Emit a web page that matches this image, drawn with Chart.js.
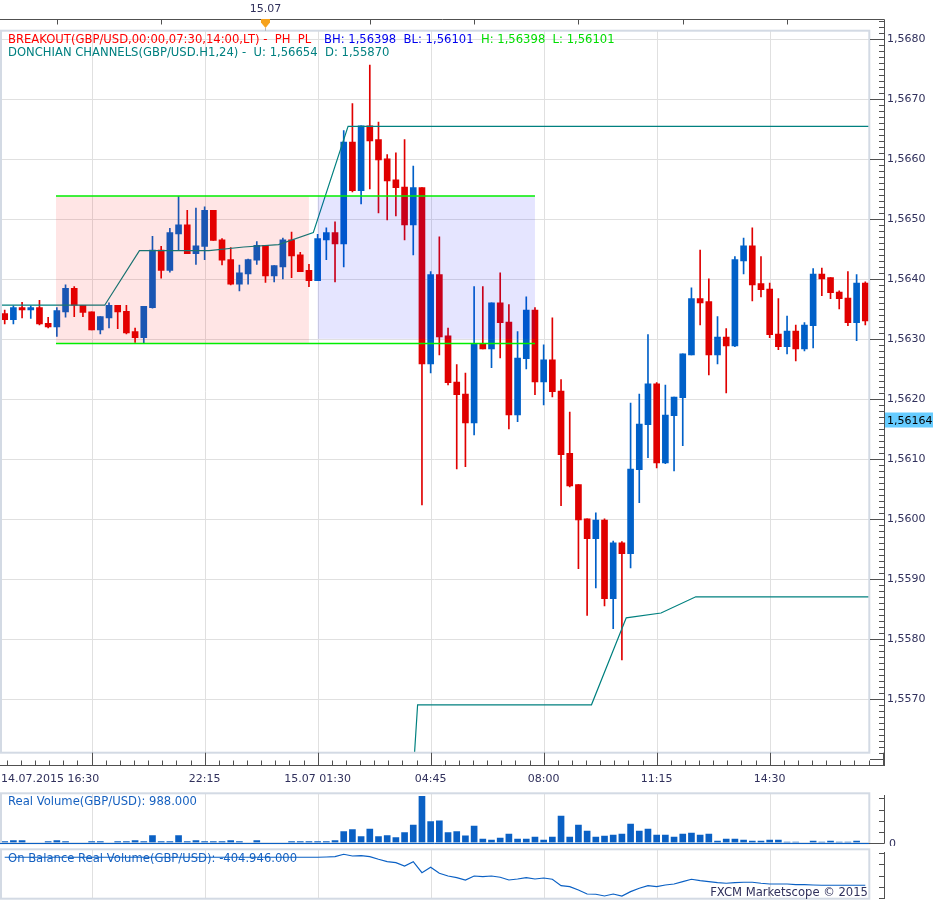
<!DOCTYPE html>
<html><head><meta charset="utf-8">
<script src="https://cdn.jsdelivr.net/npm/chart.js@4.4.1/dist/chart.umd.min.js"></script>
<style>
html,body{margin:0;padding:0;background:#fff;overflow:hidden}
#wrap{position:relative;width:942px;height:900px;background:#fff}
#wrap canvas{position:absolute;left:0}
</style></head><body>
<div id="wrap">
<canvas id="cMain" width="942" height="790" style="top:0px"></canvas>
<canvas id="cVol" width="942" height="56" style="top:790px"></canvas>
<canvas id="cObv" width="942" height="54" style="top:846px"></canvas>
</div>
<script>
// ---- 15-minute candles, GBP/USD, 14.07.2015 16:30 -> 15.07.2015 17:15 ----
const open = [
1.56342,1.56332,1.56352,1.56348,1.56352,1.56326,1.56320,1.56345,1.56384,1.56356,
1.56345,1.56315,1.56335,1.56356,1.56346,1.56312,1.56302,1.56352,1.56448,1.56414,
1.56475,1.56490,1.56442,1.56454,1.56514,1.56465,1.56432,1.56391,1.56408,1.56431,
1.56456,1.56405,1.56420,1.56465,1.56440,1.56414,1.56397,1.56465,1.56477,1.56458,
1.56628,1.56547,1.56655,1.56632,1.56600,1.56565,1.56553,1.56490,1.56552,1.56258,
1.56407,1.56305,1.56228,1.56208,1.56160,1.56292,1.56283,1.56360,1.56328,1.56173,
1.56267,1.56348,1.56228,1.56265,1.56213,1.56109,1.56057,1.56000,1.55967,1.55998,
1.55867,1.55960,1.55942,1.56082,1.56157,1.56225,1.56093,1.56172,1.56202,1.56273,
1.56367,1.56362,1.56273,1.56303,1.56288,1.56430,1.56455,1.56392,1.56383,1.56308,
1.56287,1.56313,1.56283,1.56322,1.56408,1.56402,1.56378,1.56368,1.56327,1.56393];
const high = [
1.56348,1.56355,1.56361,1.56355,1.56364,1.56336,1.56352,1.56390,1.56387,1.56356,
1.56345,1.56337,1.56360,1.56356,1.56356,1.56318,1.56354,1.56471,1.56454,1.56484,
1.56537,1.56514,1.56518,1.56520,1.56514,1.56467,1.56452,1.56423,1.56433,1.56462,
1.56456,1.56422,1.56468,1.56478,1.56444,1.56424,1.56474,1.56485,1.56495,1.56647,
1.56692,1.56655,1.56756,1.56661,1.56607,1.56610,1.56632,1.56588,1.56552,1.56412,
1.56470,1.56318,1.56257,1.56243,1.56387,1.56387,1.56360,1.56410,1.56357,1.56312,
1.56370,1.56352,1.56290,1.56335,1.56232,1.56178,1.56057,1.56000,1.56010,1.56000,
1.55963,1.55962,1.56193,1.56208,1.56307,1.56227,1.56223,1.56203,1.56275,1.56385,
1.56448,1.56400,1.56337,1.56317,1.56437,1.56468,1.56485,1.56437,1.56393,1.56367,
1.56338,1.56323,1.56327,1.56417,1.56418,1.56402,1.56380,1.56412,1.56407,1.56395];
const low = [
1.56325,1.56325,1.56335,1.56334,1.56323,1.56318,1.56304,1.56336,1.56337,1.56337,
1.56315,1.56308,1.56318,1.56317,1.56308,1.56294,1.56292,1.56351,1.56401,1.56411,
1.56448,1.56442,1.56424,1.56432,1.56464,1.56423,1.56390,1.56380,1.56391,1.56424,
1.56394,1.56395,1.56400,1.56402,1.56412,1.56387,1.56397,1.56432,1.56395,1.56420,
1.56545,1.56525,1.56550,1.56510,1.56498,1.56505,1.56465,1.56440,1.56023,1.56243,
1.56273,1.56223,1.56083,1.56087,1.56140,1.56283,1.56252,1.56268,1.56150,1.56162,
1.56250,1.56207,1.56190,1.56203,1.56022,1.56053,1.55917,1.55839,1.55885,1.55855,
1.55817,1.55765,1.55918,1.56027,1.56102,1.56085,1.56092,1.56080,1.56122,1.56273,
1.56323,1.56240,1.56258,1.56210,1.56287,1.56408,1.56363,1.56370,1.56302,1.56282,
1.56275,1.56263,1.56280,1.56285,1.56372,1.56367,1.56350,1.56322,1.56297,1.56323];
const close = [
1.56332,1.56352,1.56348,1.56352,1.56325,1.56320,1.56347,1.56384,1.56356,1.56344,
1.56315,1.56337,1.56356,1.56345,1.56310,1.56302,1.56354,1.56448,1.56414,1.56477,
1.56490,1.56442,1.56455,1.56514,1.56464,1.56431,1.56391,1.56410,1.56432,1.56456,
1.56405,1.56422,1.56465,1.56438,1.56412,1.56397,1.56467,1.56477,1.56458,1.56628,
1.56547,1.56655,1.56630,1.56598,1.56563,1.56552,1.56490,1.56552,1.56258,1.56407,
1.56303,1.56227,1.56207,1.56160,1.56292,1.56283,1.56360,1.56327,1.56173,1.56268,
1.56348,1.56228,1.56265,1.56212,1.56107,1.56055,1.55998,1.55967,1.55998,1.55867,
1.55960,1.55942,1.56083,1.56158,1.56225,1.56093,1.56173,1.56203,1.56275,1.56367,
1.56360,1.56273,1.56303,1.56288,1.56432,1.56455,1.56390,1.56382,1.56307,1.56287,
1.56313,1.56283,1.56323,1.56408,1.56400,1.56377,1.56367,1.56327,1.56393,1.56330];

// Real volume (thousands)
const volume = [
750,1200,1200,0,0,750,1200,750,0,0,
750,750,0,750,750,1200,750,3400,750,750,
3400,750,1200,750,750,750,1200,750,0,1200,
0,0,0,750,750,750,750,750,1200,5170,
6060,2960,6320,2960,3400,2520,4730,8090,20900,9590,
10030,4730,5170,3310,7650,1900,1460,2340,4110,1900,
1900,2780,1460,2780,12070,2780,8090,5440,2780,3230,
3670,4110,8530,5440,6320,3670,3670,2780,4110,4550,
3670,4110,1020,1900,1900,1460,1020,1020,1460,1460,
570,570,0,1020,570,1020,570,570,1020,0];

// On balance real volume (millions)
const obv = [
-354.5,-354.5,-354.5,-354.5,-354.5,-354.5,-354.5,-354.5,-354.5,-354.5,
-354.5,-354.5,-354.5,-354.5,-354.5,-354.5,-354.5,-354.5,-354.5,-354.5,
-354.5,-354.5,-354.5,-354.5,-354.5,-354.5,-354.5,-354.5,-354.5,-354.5,
-354.5,-354.5,-354.5,-354.5,-354.5,-354.5,-354.5,-354.0,-353.4,-349.1,
-352.2,-351.6,-353.4,-358.1,-362.4,-364.2,-370.2,-362.4,-382.2,-372.5,
-383.3,-388.2,-391.2,-395.4,-388.2,-389.4,-388.2,-390.5,-395.4,-393.6,
-391.2,-393.6,-391.8,-394.1,-405.6,-407.4,-413.4,-420.6,-421.1,-424.2,
-420.6,-424.2,-416.4,-410.3,-405.6,-407.4,-404.4,-402.6,-398.4,-394.1,
-396.6,-398.4,-400.2,-401.3,-400.2,-399.5,-399.5,-401.3,-402.6,-402.6,
-402.6,-403.8,-403.8,-404.4,-404.9,-404.9,-404.9,-404.9,-404.9,-404.9];

// Donchian channels (H1, 24) - hourly points, positions in candle index
const donchianUpperX = [-0.5,3.5,7.5,11.5,15.5,19.5,23.5,27.5,31.5,35.5,39.5,43.5,47.5,51.5,55.5,59.5,63.5,67.5,71.5,75.5,79.5,83.5,87.5,91.5,95.5,99.5,103.5];
const donchianUpper  = [1.56356,1.56356,1.56356,1.56356,1.56447,1.56447,1.56447,1.56453,1.56457,1.56477,1.56654,1.56654,1.56654,1.56654,1.56654,1.56654,1.56654,1.56654,1.56654,1.56654,1.56654,1.56654,1.56654,1.56654,1.56654,1.56654,1.56654];
const donchianLowerX = [43.5,47.5,51.5,55.5,59.5,63.5,67.5,71.5,75.5,79.5,83.5,87.5,91.5,95.5,99.5,103.5];
const donchianLower  = [1.54783,1.55690,1.55690,1.55690,1.55690,1.55690,1.55690,1.55835,1.55843,1.55870,1.55870,1.55870,1.55870,1.55870,1.55870,1.55870];

// Breakout ranges
const boxStart  = [5.9, 36];
const boxEnd    = [35, 61];
const boxTop    = [1.56538, 1.56538];
const boxBottom = [1.56292, 1.56300];
const breakoutFrom = 5.9, breakoutTo = 61;
const breakoutHigh = 1.56538, breakoutLow = 1.56292;

// Axis ticks / labels
const priceTicks = [1.5680,1.5670,1.5660,1.5650,1.5640,1.5630,1.5620,1.5610,1.5600,1.5590,1.5580,1.5570];
const priceTickLabels = ['1,5680','1,5670','1,5660','1,5650','1,5640','1,5630','1,5620','1,5610','1,5600','1,5590','1,5580','1,5570'];
const xMajorIndex = [10,23,36,49,62,75,88];
const xTickIndex  = [23,36,49,62,75,88];
const xTickLabels = ['22:15','15.07 01:30','04:45','08:00','11:15','14:30'];
const firstTimeLabel = '14.07.2015 16:30';
const topTickIndex = [6,18,30,42,54,66,78,90];
const dayIndex = 30, dayLabel = '15.07';
const lastPrice = 1.56164, lastPriceLabel = '1,56164';
const volTicks = [0,5000,10000,15000,20000];
const obvTicks = [-347.4,-367.4,-387.4,-407.4,-427.4];

// ---- styles ----
const FONT = '11px "DejaVu Sans", sans-serif';
const LFONT = '11.6px "DejaVu Sans", sans-serif';
const AXIS_COL = '#505050', TEXT_COL = '#30305c', GRID_COL = '#e0e0e0', FRAME_COL = '#d3dae4';
const UP_COL = '#0060c8', DOWN_COL = '#e00000', VOL_COL = '#0a60c4';
const AX_X = 884.5;

const idx = open.map((_, i) => i);
const candleCol = idx.map(i => close[i] >= open[i] ? UP_COL : DOWN_COL);

function px(v){ return Math.round(v) + 0.5; }
function seg(ctx,x1,y1,x2,y2){ ctx.beginPath(); ctx.moveTo(x1,y1); ctx.lineTo(x2,y2); ctx.stroke(); }
function drawVGrid(chart){
  const {ctx, chartArea:a, scales:{x}} = chart;
  ctx.save(); ctx.strokeStyle = GRID_COL; ctx.lineWidth = 1;
  xMajorIndex.forEach(k => { const xx = px(x.getPixelForValue(k)); seg(ctx, xx, a.top, xx, a.bottom); });
  ctx.restore();
}
function drawFrame(chart){
  const {ctx, chartArea:a} = chart;
  ctx.save(); ctx.strokeStyle = FRAME_COL; ctx.lineWidth = 2;
  ctx.strokeRect(a.left + 1, a.top, a.right - a.left - 1, a.bottom - a.top);
  ctx.restore();
}
function baseOptions(yMin, yMax, pad){
  return {
    responsive:false, animation:false, events:[],
    layout:{padding:pad},
    plugins:{legend:{display:false}, tooltip:{enabled:false}},
    scales:{
      x:{type:'linear', min:-0.54, max:99.46, offset:false, display:false},
      y:{type:'linear', min:yMin, max:yMax, display:false}
    }
  };
}

// ---- main price chart ----
const mainPlugin = {
  id:'mainDeco',
  beforeDatasetsDraw(chart){
    const {ctx, chartArea:a, scales:{y}} = chart;
    ctx.save(); ctx.strokeStyle = GRID_COL; ctx.lineWidth = 1;
    priceTicks.forEach(v => { const yy = px(y.getPixelForValue(v)); seg(ctx, a.left, yy, a.right, yy); });
    ctx.restore();
    drawVGrid(chart);
  },
  afterDatasetsDraw(chart){
    const {ctx, chartArea:a, scales:{x,y}} = chart;
    ctx.save();
    ctx.beginPath(); ctx.rect(a.left, a.top, a.right - a.left, a.bottom - a.top); ctx.clip();
    const boxColors = ['rgba(255,0,0,0.10)','rgba(0,0,255,0.10)'];
    boxStart.forEach((s,i) => {
      const x1 = x.getPixelForValue(s), x2 = x.getPixelForValue(boxEnd[i]);
      const y1 = y.getPixelForValue(boxTop[i]), y2 = y.getPixelForValue(boxBottom[i]);
      ctx.fillStyle = boxColors[i]; ctx.fillRect(x1, y1, x2 - x1, y2 - y1);
    });
    ctx.strokeStyle = '#00ee00'; ctx.lineWidth = 1.5;
    const gx1 = x.getPixelForValue(breakoutFrom), gx2 = x.getPixelForValue(breakoutTo);
    [breakoutHigh, breakoutLow].forEach(v => { const yy = y.getPixelForValue(v); seg(ctx, gx1, yy, gx2, yy); });
    ctx.restore();
  },
  afterDraw(chart){
    const {ctx, chartArea:a, scales:{x,y}} = chart;
    drawFrame(chart);
    ctx.save();
    ctx.strokeStyle = AXIS_COL; ctx.lineWidth = 1;
    const topY = 19.5, botY = 765.5;
    seg(ctx, 0, topY, AX_X, topY);
    seg(ctx, AX_X, topY, AX_X, botY);
    seg(ctx, 0, botY, AX_X + 0.5, botY);
    // price axis ticks
    for (let m = 15558; m <= 15684; m++){
      const yy = px(y.getPixelForValue(m / 10000));
      if (yy < topY || yy > botY) continue;
      seg(ctx, m % 10 === 0 ? 870 : 879, yy, AX_X, yy);
    }
    // time axis ticks (major every 13 candles, 8 minor steps)
    for (let n = -6; n < 80; n++){
      const xx = px(x.getPixelForValue(xMajorIndex[0] + n * 13 / 8));
      if (xx < 0) continue; if (xx > AX_X) break;
      seg(ctx, xx, n % 8 === 0 ? a.bottom : 760.5, xx, botY);
    }
    topTickIndex.forEach(k => { const xx = px(x.getPixelForValue(k)); seg(ctx, xx, topY, xx, 24.5); });
    // labels
    ctx.font = FONT; ctx.fillStyle = TEXT_COL; ctx.textBaseline = 'middle';
    ctx.textAlign = 'left';
    priceTicks.forEach((v,i) => ctx.fillText(priceTickLabels[i], 887, y.getPixelForValue(v) + 0.5));
    ctx.fillText(firstTimeLabel, 1, 779.5);
    ctx.textAlign = 'center';
    xTickIndex.forEach((k,i) => ctx.fillText(xTickLabels[i], x.getPixelForValue(k), 779.5));
    const mx = x.getPixelForValue(dayIndex);
    ctx.fillText(dayLabel, mx, 9.5);
    // day marker
    ctx.fillStyle = '#f6a21c';
    ctx.beginPath(); ctx.moveTo(mx - 4.5, 19); ctx.lineTo(mx + 4.5, 19); ctx.lineTo(mx + 4.5, 22.5);
    ctx.lineTo(mx, 28); ctx.lineTo(mx - 4.5, 22.5); ctx.closePath(); ctx.fill();
    ctx.strokeStyle = '#b8b8b8'; seg(ctx, px(mx), 28, px(mx), 31);
    // last price label
    const ly = y.getPixelForValue(lastPrice);
    ctx.fillStyle = '#66ccff'; ctx.fillRect(885, Math.round(ly) - 7.5, 48, 15);
    ctx.fillStyle = '#000'; ctx.textAlign = 'left'; ctx.fillText(lastPriceLabel, 887, ly + 0.5);
    // legend
    ctx.font = LFONT;
    ctx.fillStyle = '#ff0000'; ctx.fillText('BREAKOUT(GBP/USD,00:00,07:30,14:00,LT) -  PH  PL', 8, 39.5);
    ctx.fillStyle = '#0000ee'; ctx.fillText('BH: 1,56398  BL: 1,56101', 324, 39.5);
    ctx.fillStyle = '#00dd00'; ctx.fillText('H: 1,56398  L: 1,56101', 481, 39.5);
    ctx.fillStyle = '#008080'; ctx.fillText('DONCHIAN CHANNELS(GBP/USD.H1,24) -  U: 1,56654  D: 1,55870', 8, 52.5);
    ctx.restore();
  }
};

new Chart(document.getElementById('cMain'), {
  type:'bar',
  data:{datasets:[
    {type:'line', data:donchianUpperX.map((k,i)=>({x:k, y:donchianUpper[i]})), borderColor:'#00807f', borderWidth:1.2, pointRadius:0, tension:0, fill:false},
    {type:'line', data:donchianLowerX.map((k,i)=>({x:k, y:donchianLower[i]})), borderColor:'#00807f', borderWidth:1.2, pointRadius:0, tension:0, fill:false},
    {type:'bar', data:idx.map(i=>({x:i, y:[open[i], close[i]]})), backgroundColor:candleCol, barThickness:6, grouped:false, minBarLength:1, borderWidth:0},
    {type:'bar', data:idx.map(i=>({x:i, y:[low[i], high[i]]})), backgroundColor:candleCol, barThickness:1, grouped:false, borderWidth:0}
  ]},
  options: baseOptions(1.556102, 1.568135, {left:0, right:72.7, top:30.7, bottom:37.3}),
  plugins:[mainPlugin]
});

// ---- volume panel ----
const volPlugin = {
  id:'volDeco',
  beforeDatasetsDraw(chart){ drawVGrid(chart); },
  afterDraw(chart){
    const {ctx, chartArea:a, scales:{y}} = chart;
    drawFrame(chart);
    ctx.save(); ctx.lineWidth = 1;
    const y0 = px(y.getPixelForValue(0));
    ctx.strokeStyle = VOL_COL; seg(ctx, a.left, y0, a.right, y0);
    ctx.strokeStyle = AXIS_COL;
    seg(ctx, AX_X, 5, AX_X, y0);
    volTicks.forEach(v => { const yy = px(y.getPixelForValue(v)); seg(ctx, v === 0 ? 869 : 879, yy, AX_X, yy); });
    ctx.font = FONT; ctx.textBaseline = 'middle';
    ctx.fillStyle = TEXT_COL; ctx.textAlign = 'left'; ctx.fillText('0', 889, y0 + 1);
    ctx.font = LFONT;
    ctx.fillStyle = '#1560c0'; ctx.fillText('Real Volume(GBP/USD): 988.000', 8, 11.5);
    ctx.restore();
  }
};
new Chart(document.getElementById('cVol'), {
  type:'bar',
  data:{datasets:[{data:idx.map(i=>({x:i, y:volume[i]})), backgroundColor:VOL_COL, barThickness:6, grouped:false, borderWidth:0}]},
  options: baseOptions(0, 22200, {left:0, right:72.7, top:3.3, bottom:2.7}),
  plugins:[volPlugin]
});

// ---- on balance volume panel ----
const obvPlugin = {
  id:'obvDeco',
  beforeDatasetsDraw(chart){
    const {ctx} = chart;
    drawVGrid(chart);
    ctx.save(); ctx.font = LFONT; ctx.textBaseline = 'middle'; ctx.fillStyle = '#1560c0';
    ctx.fillText('On Balance Real Volume(GBP/USD): -404.946.000', 8, 12.5);
    ctx.restore();
  },
  afterDraw(chart){
    const {ctx, scales:{y}} = chart;
    drawFrame(chart);
    ctx.save(); ctx.strokeStyle = AXIS_COL; ctx.lineWidth = 1;
    seg(ctx, AX_X, 6, AX_X, 53);
    obvTicks.forEach(v => { const yy = px(y.getPixelForValue(v)); seg(ctx, 879, yy, AX_X, yy); });
    ctx.font = LFONT; ctx.textBaseline = 'middle'; ctx.textAlign = 'right'; ctx.fillStyle = TEXT_COL;
    ctx.fillText('FXCM Marketscope \u00A9 2015', 868, 46.5);
    ctx.restore();
  }
};
new Chart(document.getElementById('cObv'), {
  type:'line',
  data:{datasets:[{data:idx.map(i=>({x:i, y:obv[i]})), borderColor:VOL_COL, borderWidth:1.2, pointRadius:0, tension:0, fill:false}]},
  options: baseOptions(-429.07, -340.15, {left:0, right:72.7, top:3.3, bottom:1.3}),
  plugins:[obvPlugin]
});
</script>
</body></html>
